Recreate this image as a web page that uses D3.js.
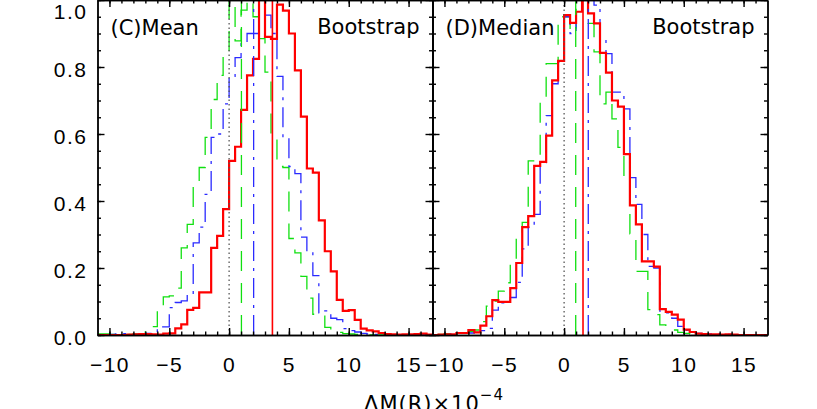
<!DOCTYPE html>
<html>
<head>
<meta charset="utf-8">
<style>
body { margin: 0; background: #fff; }
svg { display: block; font-family: "DejaVu Sans", sans-serif; }
.axis path, .axis line { stroke: #000; stroke-width: 1.4; }
.axis text { font-size: 21px; fill: #000; letter-spacing: 1.5px; }
.label { font-size: 21px; fill: #000; }
</style>
</head>
<body>
<svg width="817" height="409"></svg>
<script src="https://d3js.org/d3.v7.min.js"></script>
<script>
// histograms: bins of 0.5, first bin starts at -11 (56 bins up to 17)
var binStart = -11, binStep = 0.5;

// (C) Mean
var meanRed = [
  0, 0, 0, 0, 0, 0.001, 0.002, 0.003,
  0.003, 0.002, 0.001, 0.004, 0.005, 0.02, 0.032, 0.075,
  0.081, 0.127, 0.127, 0.26, 0.296, 0.376, 0.52, 0.562,
  0.672, 0.775, 0.824, 1.0, 0.89, 0.884, 0.986, 0.968,
  0.9, 0.79, 0.652, 0.497, 0.485, 0.342, 0.25, 0.19,
  0.105, 0.072, 0.074, 0.045, 0.019, 0.014, 0.011, 0.006,
  0.003, 0.002, 0.001, 0.002, 0.002, 0.003, 0.004, 0.001
];
var meanBlue = [
  0, 0, 0.002, 0.003, 0.004, 0.004, 0.002, 0.003,
  0.005, 0.005, 0.024, 0.024, 0.082, 0.097, 0.102, 0.12,
  0.275, 0.322, 0.42, 0.59, 0.6, 0.69, 0.772, 0.828,
  0.87, 0.9, 0.9, 1.0, 0.955, 0.9, 0.772, 0.59,
  0.503, 0.482, 0.292, 0.247, 0.177, 0.066, 0.072, 0.05,
  0.046, 0.019, 0.013, 0.009, 0.005, 0.003, 0.002, 0.002,
  0.001, 0.001, 0, 0, 0, 0, 0, 0
];
var meanGreen = [
  0.003, 0.003, 0.002, 0.001, 0.002, 0.002, 0.003, 0.004,
  0.025, 0.025, 0.084, 0.114, 0.117, 0.14, 0.26, 0.33,
  0.455, 0.5, 0.59, 0.703, 0.775, 0.85, 1.0, 0.878,
  0.97, 1.0, 0.95, 0.885, 0.785, 0.59, 0.503, 0.5,
  0.288, 0.245, 0.175, 0.11, 0.062, 0.056, 0.023, 0.013,
  0.008, 0.004, 0.003, 0.002, 0.001, 0, 0, 0,
  0, 0, 0, 0, 0, 0, 0, 0
];

// (D) Median
var medianRed = [
  0, 0.001, 0.002, 0.002, 0.006, 0.006, 0.015, 0.008,
  0.028, 0.056, 0.104, 0.099, 0.099, 0.14, 0.215, 0.322,
  0.355, 0.505, 0.517, 0.595, 0.76, 0.818, 0.955, 0.932,
  0.965, 1.0, 0.96, 0.93, 0.842, 0.783, 0.7, 0.682,
  0.54, 0.387, 0.33, 0.22, 0.22, 0.204, 0.077, 0.069,
  0.061, 0.046, 0.016, 0.009, 0.004, 0.003, 0.002, 0.002,
  0.001, 0.002, 0.001, 0, 0, 0, 0, 0
];
var medianBlue = [
  0, 0, 0.002, 0.003, 0.005, 0.005, 0.006, 0.008,
  0.013, 0.02, 0.074, 0.096, 0.096, 0.112, 0.157, 0.257,
  0.322, 0.36, 0.515, 0.655, 0.75, 0.815, 0.95, 0.9,
  0.97, 1.0, 1.0, 0.985, 0.885, 0.84, 0.725, 0.725,
  0.675, 0.47, 0.39, 0.3, 0.205, 0.2, 0.071, 0.066,
  0.05, 0.026, 0.014, 0.008, 0.005, 0.004, 0.003, 0.004,
  0.002, 0.002, 0.001, 0.001, 0, 0, 0, 0
];
var medianGreen = [
  0, 0.002, 0.004, 0.004, 0.005, 0.006, 0.01, 0.015,
  0.04, 0.086, 0.101, 0.131, 0.156, 0.226, 0.3, 0.336,
  0.52, 0.52, 0.705, 0.81, 0.81, 0.95, 0.95, 0.905,
  0.98, 1.0, 0.93, 0.845, 0.69, 0.725, 0.645, 0.56,
  0.46, 0.302, 0.19, 0.19, 0.076, 0.061, 0.03, 0.025,
  0.015, 0.008, 0.005, 0.003, 0.002, 0.001, 0, 0,
  0, 0, 0, 0, 0, 0, 0, 0
];

// vertical reference lines: zero, green, blue, red
var meanLines = [0, 1.03, 2.05, 3.62];
var medianLines = [0, 0.97, 2.02, 1.58];

var panelTitles = ["(C)Mean", "(D)Median"];
var methodLabel = "Bootstrap";
var xMajor = [-10, -5, 0, 5, 10, 15];
var xMinor = d3.range(-10, 17, 1);
var yMajor = [0, 0.2, 0.4, 0.6, 0.8, 1.0];
var yMinor = d3.range(0, 1.001, 0.05);

var svg = d3.select("svg");
var y = d3.scaleLinear().domain([0, 1]).range([335, 0]);

var panels = [
  {title: panelTitles[0], left: 97.5, right: 432.5, red: meanRed, blue: meanBlue, green: meanGreen, lines: meanLines, yLabels: true},
  {title: panelTitles[1], left: 432.5, right: 767.5, red: medianRed, blue: medianBlue, green: medianGreen, lines: medianLines, yLabels: false}
];

var styles = {
  zero:  {color: "#555", width: 1.3, dash: "1.5,3"},
  green: {color: "#10e010", width: 1.3, dash: "20,12"},
  blue:  {color: "#2a2aff", width: 1.3, dash: "20,7,3,7"},
  red:   {color: "#ff0000", width: 2.2, dash: null}
};

panels.forEach(function(p, pi) {
  var x = d3.scaleLinear().domain([-11, 17]).range([p.left, p.right]);
  var g = svg.append("g");

  var clipId = "clip" + pi;
  svg.append("clipPath").attr("id", clipId)
    .append("rect").attr("x", p.left).attr("y", y(1)).attr("width", p.right - p.left).attr("height", y(0) - y(1));

  var plot = g.append("g").attr("clip-path", "url(#" + clipId + ")");

  var line = d3.line()
      .x(function(d) { return x(d[0]); })
      .y(function(d) { return y(d[1]); })
      .curve(d3.curveStepAfter);

  function steps(vals) {
    var pts = vals.map(function(v, i) { return [binStart + i * binStep, v]; });
    pts.push([binStart + vals.length * binStep, vals[vals.length - 1]]);
    return pts;
  }

  ["green", "blue", "red"].forEach(function(k) {
    var s = styles[k];
    plot.append("path")
      .attr("d", line(steps(p[k])))
      .attr("fill", "none")
      .attr("stroke", s.color)
      .attr("stroke-width", s.width)
      .attr("stroke-dasharray", s.dash);
  });

  var lineStyles = [styles.zero, styles.green, styles.blue, {color: "#ff0000", width: 1.6, dash: null}];
  plot.selectAll(".vline").data(p.lines).enter().append("line")
    .attr("x1", function(d) { return x(d); })
    .attr("x2", function(d) { return x(d); })
    .attr("y1", y(0))
    .attr("y2", y(1))
    .attr("stroke", function(d, i) { return lineStyles[i].color; })
    .attr("stroke-width", function(d, i) { return lineStyles[i].width; })
    .attr("stroke-dasharray", function(d, i) { return lineStyles[i].dash; });

  // axes: major and minor ticks, all pointing inward
  var fmtX = d3.format("d");
  g.append("g").attr("class", "axis").attr("transform", "translate(0," + y(0) + ")")
    .call(d3.axisBottom(x).tickValues(xMajor).tickSize(-7).tickSizeOuter(0).tickPadding(22).tickFormat(fmtX));
  g.append("g").attr("class", "axis").attr("transform", "translate(0," + y(0) + ")")
    .call(d3.axisBottom(x).tickValues(xMinor).tickSize(-3.5).tickSizeOuter(0).tickFormat(""));
  g.append("g").attr("class", "axis").attr("transform", "translate(0," + y(1) + ")")
    .call(d3.axisTop(x).tickValues(xMajor).tickSize(-7).tickSizeOuter(0).tickFormat(""));
  g.append("g").attr("class", "axis").attr("transform", "translate(0," + y(1) + ")")
    .call(d3.axisTop(x).tickValues(xMinor).tickSize(-3.5).tickSizeOuter(0).tickFormat(""));

  var yl = g.append("g").attr("class", "axis").attr("transform", "translate(" + p.left + ",0)")
    .call(d3.axisLeft(y).tickValues(yMajor).tickSize(-7).tickSizeOuter(0).tickPadding(10)
      .tickFormat(p.yLabels ? d3.format(".1f") : ""));
  yl.selectAll("text").attr("dy", function(d) { return d === 1 ? "0.88em" : "0.45em"; });
  g.append("g").attr("class", "axis").attr("transform", "translate(" + p.left + ",0)")
    .call(d3.axisLeft(y).tickValues(yMinor).tickSize(-3.5).tickSizeOuter(0).tickFormat(""));
  g.append("g").attr("class", "axis").attr("transform", "translate(" + p.right + ",0)")
    .call(d3.axisRight(y).tickValues(yMajor).tickSize(-7).tickSizeOuter(0).tickFormat(""));
  g.append("g").attr("class", "axis").attr("transform", "translate(" + p.right + ",0)")
    .call(d3.axisRight(y).tickValues(yMinor).tickSize(-3.5).tickSizeOuter(0).tickFormat(""));

  g.append("text").attr("class", "label")
    .attr("x", p.left + 13).attr("y", 35)
    .text(p.title);
  g.append("text").attr("class", "label")
    .attr("x", p.right - 13).attr("y", 34)
    .attr("text-anchor", "end")
    .text(methodLabel);
});

var title = svg.append("text").attr("class", "label")
  .attr("x", 434).attr("y", 410.5)
  .attr("text-anchor", "middle")
  .style("letter-spacing", "1px");
title.append("tspan").text("\u0394M(R)\u00d710");
title.append("tspan").attr("dy", -11).attr("font-size", 15).text("\u22124");
</script>
</body>
</html>
